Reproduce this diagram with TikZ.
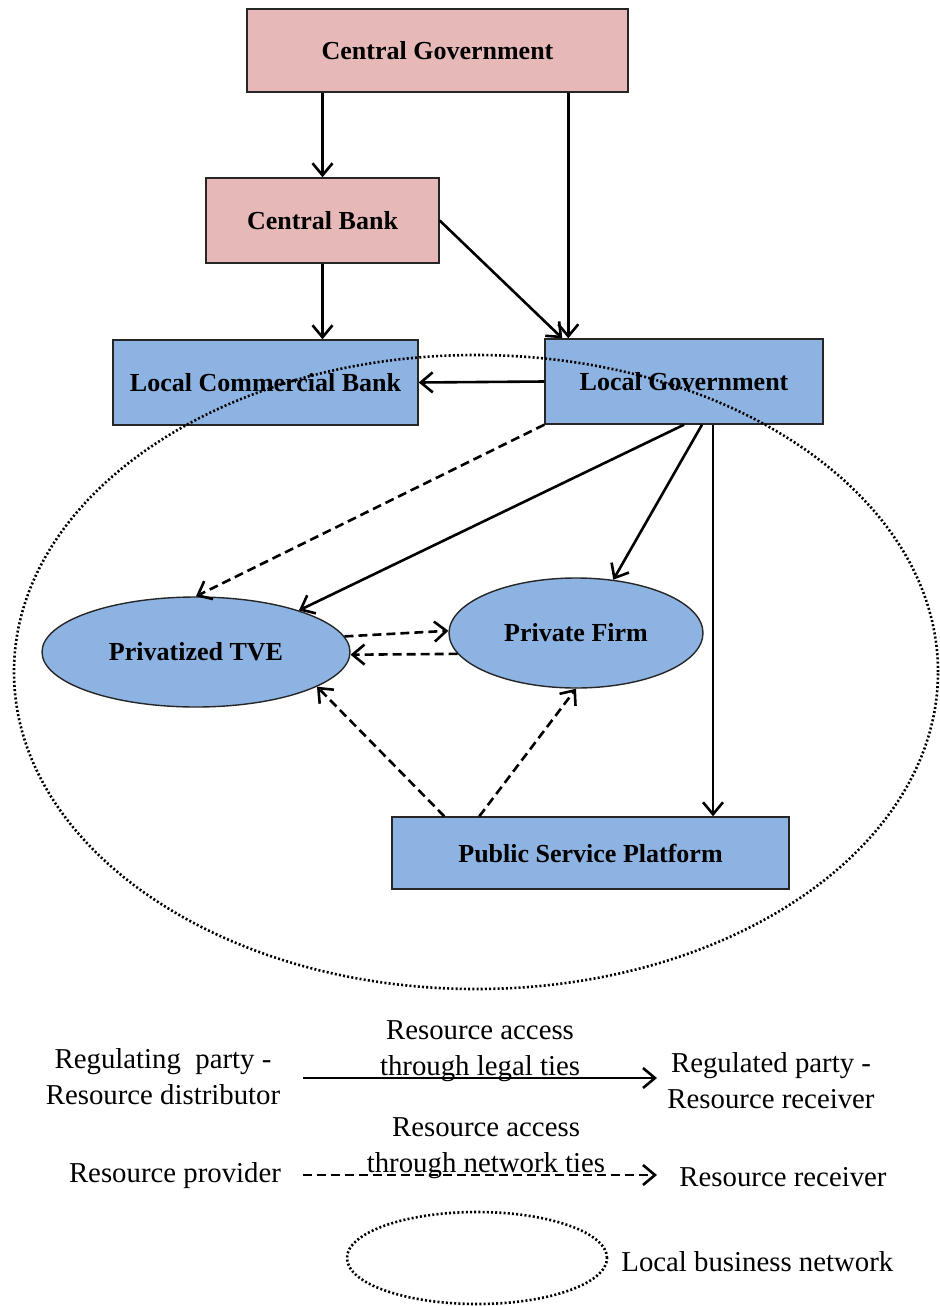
\documentclass[tikz,border=0pt]{standalone}
\usepackage{fontspec}
\setmainfont{Liberation Serif}
\usetikzlibrary{arrows.meta,shapes.geometric,calc}
\definecolor{govpink}{HTML}{E6B9B8}
\definecolor{locblue}{HTML}{8DB3E2}
\begin{document}
\begin{tikzpicture}[x=0.5pt,y=-0.5pt,
  box/.style={draw=black!85, line width=0.7pt, inner sep=0pt,
    font=\bfseries\fontsize{13}{15}\selectfont},
  pinkbox/.style={box, rectangle, fill=govpink},
  bluebox/.style={box, rectangle, fill=locblue},
  blueoval/.style={box, ellipse, fill=locblue},
  legal/.style={line width=1.3pt, -{Straight Barb[length=6pt,width=10pt,line width=1.3pt]}},
  netlink/.style={legal, dash pattern=on 4.5pt off 2.5pt},
  netarea/.style={draw, ellipse, inner sep=0pt, line width=1.3pt, dash pattern=on 1pt off 1.1pt},
  legtext/.style={font=\fontsize{14.4}{18}\selectfont, align=center, inner sep=0pt}
]
\useasboundingbox (0,0) rectangle (940,1306);

% actors
\node[pinkbox, minimum width=190.5pt, minimum height=41.5pt] (cg) at (437.5,50.5) {Central Government};
\node[pinkbox, minimum width=116.5pt, minimum height=42.5pt] (cb) at (322.5,220.5) {Central Bank};
\node[bluebox, minimum width=152.5pt, minimum height=42.5pt] (lcb) at (265.5,382.5) {Local Commercial Bank};
\node[bluebox, minimum width=139pt, minimum height=42.5pt] (lg) at (684,381.5) {Local Government};
\node[blueoval, minimum width=154pt, minimum height=55pt] (tve) at (196,652) {Privatized TVE};
\node[blueoval, minimum width=127pt, minimum height=55pt] (pf) at (576,633) {Private Firm};
\node[bluebox, minimum width=198.5pt, minimum height=36pt] (psp) at (590.5,853) {Public Service Platform};

% legal ties
\draw[legal] (cg.south -| cb.north) -- (cb.north);
\coordinate (lgtop) at ([xshift=12pt]lg.north west);
\draw[legal] (cg.south -| lgtop) -- (lgtop);
\coordinate (lgtop2) at ([xshift=9pt]lg.north west);
\draw[legal] (cb.east) -- (lgtop2);
\draw[legal] (cb.south) -- (cb.south |- lcb.north);
\draw[legal] (lg.west) -- (lcb.east);
\draw[legal] (lg.south) -- (tve.22);
\draw[legal] ([xshift=9pt]lg.south) -- (pf.55);
\coordinate (lgdown) at ([xshift=14.5pt]lg.south);
\draw[legal] (lgdown) -- (lgdown |- psp.north);

% network ties
\draw[netlink] (lg.south west) -- (tve.north);
\draw[netlink] (tve.6) -- (pf.179);
\draw[netlink] (pf.190) -- (tve.-1);
\draw[netlink] ([xshift=26.5pt]psp.north west) -- (tve.-16);
\draw[netlink] ([xshift=44pt]psp.north west) -- (pf.south);

% local business network
\node[netarea, minimum width=462pt, minimum height=317pt] (net) at (476,672) {};

% key
\node[legtext] (regl) at (163,1077) {Regulating\ \ party -\\Resource distributor};
\node[legtext] (legcap) at (480,1051) {Resource access\\through legal ties};
\node[legtext] (regd) at (771,1081) {Regulated party -\\Resource receiver};
\coordinate (l1a) at (303,1078);
\coordinate (l1b) at (657,1078);
\draw[legal] (l1a) -- (l1b);

\node[legtext] (prov) at (175,1176) {Resource provider};
\node[legtext] (netcap) at (486,1148) {Resource access\\through network ties};
\node[legtext] (recv) at (783,1177) {Resource receiver};
\coordinate (l2a) at (303,1175);
\coordinate (l2b) at (657,1175);
\draw[netlink] (l2a) -- (l2b);

\node[netarea, minimum width=130pt, minimum height=46pt] (netkey) at (477,1258) {};
\node[legtext, anchor=west] (netlbl) at (621,1262) {Local business network};
\end{tikzpicture}
\end{document}
